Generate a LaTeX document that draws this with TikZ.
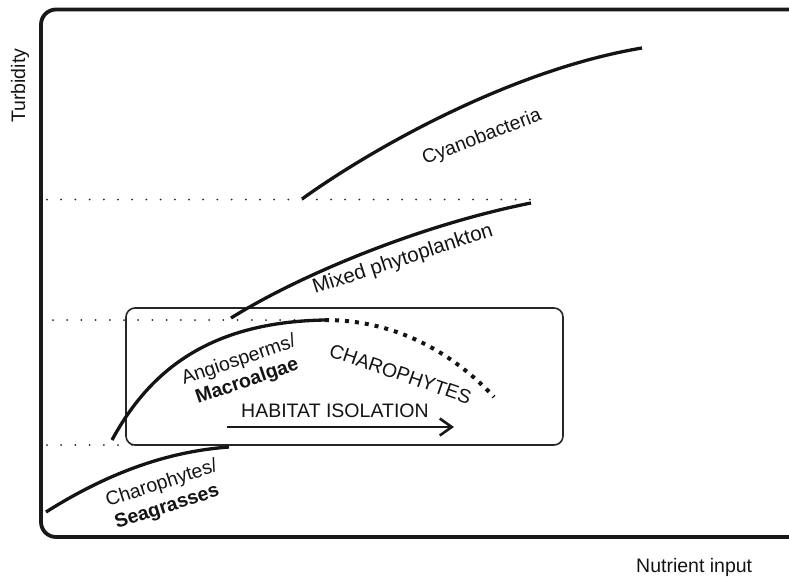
\documentclass[tikz,border=0pt]{standalone}
\usepackage{fontspec}
\setmainfont{Liberation Sans}
\usetikzlibrary{arrows.meta}
\begin{document}
\begin{tikzpicture}[x=1pt,y=-1pt,
  lbl/.style={font=\fontsize{19.5}{22}\selectfont, inner sep=0pt, text=black!92},
  blbl/.style={lbl, font=\fontsize{19.5}{22}\selectfont\bfseries},
  curve/.style={line width=3.3pt, black!92},
  thindots/.style={line width=2pt, line cap=round, dash pattern=on 0pt off 14.2pt, black!85},
  thickdots/.style={line width=4pt, dash pattern=on 4pt off 6pt, black!92},
  frame/.style={line width=3.8pt, black!90, rounded corners=15pt},
  isobox/.style={line width=1.6pt, black!85, rounded corners=9pt}]
\useasboundingbox (0,0) rectangle (789,576);
% outer frame (right side runs off the picture)
\begin{scope}
  \clip (0,0) rectangle (789,576);
  \draw[frame] (41,9.5) rectangle (805,537);
\end{scope}
% axis labels
\node[lbl, rotate=90, anchor=base west] (ylab) at (25,123) {Turbidity};
\node[lbl, anchor=base west] (xlab) at (636,572) {Nutrient input};
% dotted threshold lines
\coordinate (d1a) at (47,199.5); \coordinate (d1b) at (531,199.5);
\coordinate (d2a) at (53,320); \coordinate (d2b) at (300,320);
\coordinate (d3a) at (47,445); \coordinate (d3b) at (225,445);
\draw[thindots] (d1a) -- (d1b);
\draw[thindots] (d2a) -- (d2b);
\draw[thindots] (d3a) -- (d3b);
% habitat isolation box
\draw[isobox] (126,308) rectangle (563,445);
% curves
\coordinate (c1a) at (46,512); \coordinate (c1b) at (229,447);
\draw[curve] (c1a) .. controls (100,478) and (160,452) .. (c1b);
\coordinate (c2a) at (112,440); \coordinate (c2b) at (325,320);
\draw[curve] (c2a) .. controls (150,370) and (210,322) .. (c2b);
\coordinate (c3b) at (494,397);
\draw[thickdots] (c2b) .. controls (395,320) and (452,352) .. (c3b);
\coordinate (c4a) at (231,318); \coordinate (c4b) at (531,203);
\draw[curve] (c4a) .. controls (300,275) and (420,225) .. (c4b);
\coordinate (c5a) at (302,199); \coordinate (c5b) at (642,48);
\draw[curve] (c5a) .. controls (370,150) and (510,70) .. (c5b);
% arrow
\coordinate (arrS) at (227,427); \coordinate (arrE) at (454,427);
\draw[line width=2.6pt, black!90, -{Straight Barb[length=12pt,width=17pt]}] (arrS) -- (arrE);
% labels
\node[lbl, rotate=21, anchor=base west] (cyano) at (425,165) {Cyanobacteria};
\node[lbl, rotate=18, anchor=base west, font=\fontsize{20.5}{22}\selectfont] (mixed) at (315,294) {Mixed phytoplankton};
\node[lbl, rotate=19, anchor=base west] (angio) at (184,385) {Angiosperms/};
\node[blbl, rotate=19, anchor=base west] (macro) at (198,404) {Macroalgae};
\node[lbl, rotate=-19, anchor=base west] (charo) at (328,356) {CHAROPHYTES};
\node[lbl, anchor=base west] (habit) at (241,417) {HABITAT ISOLATION};
\node[lbl, rotate=18, anchor=base west] (charsea) at (108,507) {Charophytes/};
\node[blbl, rotate=18, anchor=base west] (seag) at (117,529) {Seagrasses};
\end{tikzpicture}
\end{document}
